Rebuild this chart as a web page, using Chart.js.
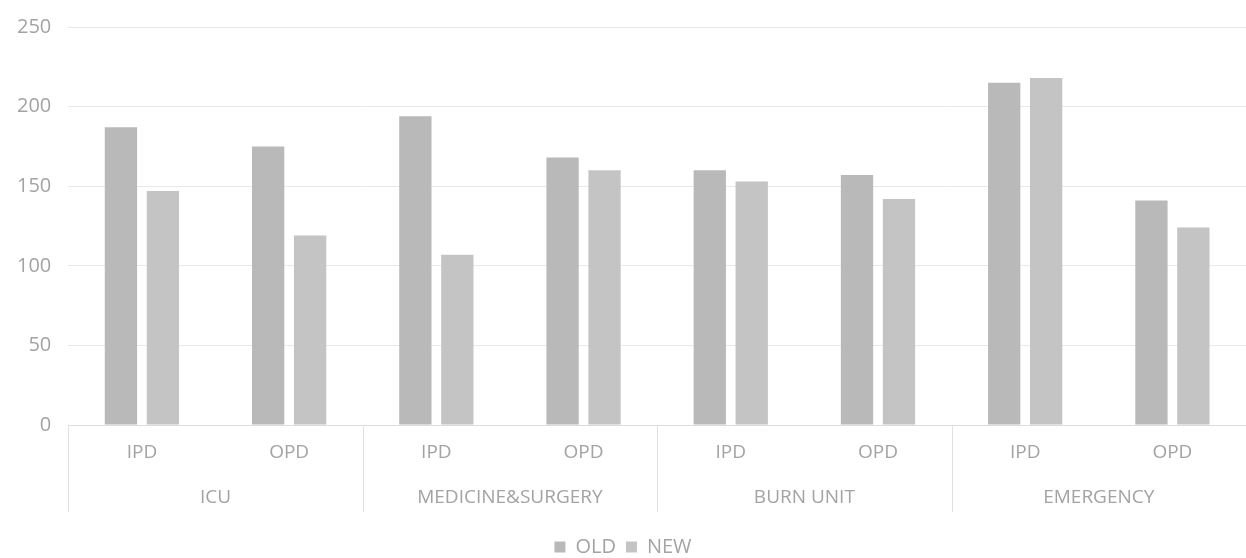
<!DOCTYPE html>
<html>
<head>
<meta charset="utf-8">
<script src="https://cdn.jsdelivr.net/npm/chart.js@4"></script>
<style>
  html, body { margin: 0; padding: 0; background: #fff; }
  #wrap { width: 1246px; height: 558px; }
</style>
</head>
<body>
<div id="wrap"><canvas id="chart"></canvas></div>
<script>
// Data
const groups = ['ICU', 'MEDICINE&SURGERY', 'BURN UNIT', 'EMERGENCY'];
const units = ['IPD', 'OPD', 'IPD', 'OPD', 'IPD', 'OPD', 'IPD', 'OPD'];
const oldValues = [187, 175, 194, 168, 160, 157, 215, 141];
const newValues = [147, 119, 107, 160, 153, 142, 218, 124];
const yMax = 250;
const yStep = 50;

const textColor = '#a3a3a3';
const gridColor = '#e8e8e8';
const sepColor = '#e0e0e0';
const fontFamily = "'Open Sans', 'Noto Sans', sans-serif";

// Vertical separators between the groups, through both label rows
const groupSeparators = {
  id: 'groupSeparators',
  afterDraw(chart) {
    const x = chart.scales.x;
    const x2 = chart.scales.x2;
    const step = x.getPixelForValue(1) - x.getPixelForValue(0);
    const c = chart.ctx;
    c.save();
    c.strokeStyle = sepColor;
    c.lineWidth = 1;
    for (let i = 0; i <= units.length; i += 2) {
      const px = Math.round(x.getPixelForValue(i) - step / 2) + 0.5;
      c.beginPath();
      c.moveTo(px, chart.chartArea.bottom);
      c.lineTo(px, x2.bottom - 15);
      c.stroke();
    }
    c.restore();
  }
};

const ctx = document.getElementById('chart').getContext('2d');
new Chart(ctx, {
  type: 'bar',
  data: {
    labels: units,
    datasets: [
      { label: 'OLD', data: oldValues, backgroundColor: '#b9b9b9' },
      { label: 'NEW', data: newValues, backgroundColor: '#c4c4c4' }
    ]
  },
  options: {
    responsive: true,
    maintainAspectRatio: false,
    animation: false,
    categoryPercentage: 0.57,
    barPercentage: 0.77,
    layout: { padding: { top: 0, left: 0, right: 0, bottom: -9 } },
    scales: {
      y: {
        min: 0,
        max: yMax,
        ticks: { stepSize: yStep, color: textColor, padding: 17, font: { family: fontFamily, size: 20, lineHeight: 1 } },
        grid: { color: gridColor, drawTicks: false },
        border: { display: false }
      },
      x: {
        offset: true,
        ticks: { color: textColor, padding: 0, font: { family: fontFamily, size: 19, lineHeight: 15 / 19 } },
        grid: { display: false, drawTicks: true, tickLength: 20 },
        border: { display: true, color: '#dcdcdc' }
      },
      x2: {
        type: 'category',
        labels: groups,
        position: 'bottom',
        offset: true,
        ticks: { color: textColor, padding: 0, font: { family: fontFamily, size: 19, lineHeight: 15 / 19 } },
        grid: { display: false, drawTicks: true, tickLength: 30 },
        border: { display: false },
        title: { display: true, text: ' ', font: { size: 10, lineHeight: 1 }, padding: { top: 0, bottom: 12 } }
      }
    },
    plugins: {
      legend: {
        position: 'bottom',
        labels: { color: textColor, boxWidth: 11, boxHeight: 11, padding: 10, font: { family: fontFamily, size: 20 } }
      },
      tooltip: { enabled: false }
    }
  },
  plugins: [groupSeparators]
});
</script>
</body>
</html>
